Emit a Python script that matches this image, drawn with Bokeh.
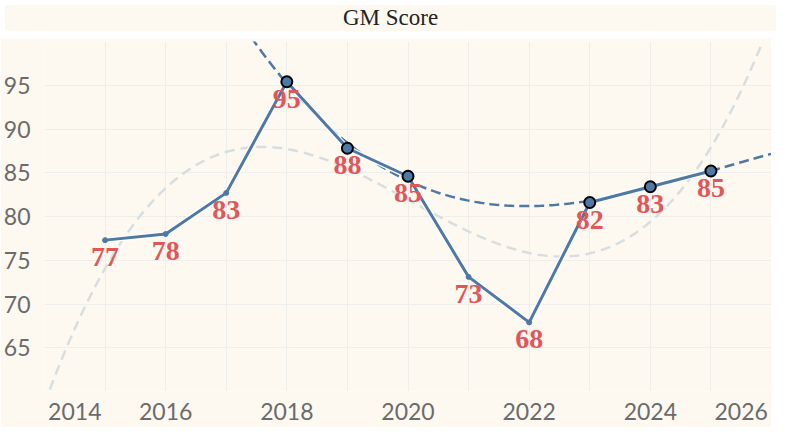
import numpy as np
from bokeh.plotting import figure
from bokeh.models import FixedTicker, ColumnDataSource, Div, Column
from bokeh.core.properties import value
from bokeh.embed import file_html
from bokeh.resources import INLINE

# ---- data ----
title_text = "GM Score"
years = [2015, 2016, 2017, 2018, 2019, 2020, 2021, 2022, 2023, 2024, 2025]
scores = [77.3, 78.0, 82.7, 95.4, 87.8, 84.6, 73.1, 67.9, 81.6, 83.4, 85.2]
highlight_years = [2018, 2019, 2020, 2023, 2024, 2025]
x_tick_labels = ["2014", "2016", "2018", "2020", "2022", "2024", "2026"]
y_ticks = [65, 70, 75, 80, 85, 90, 95]

# ---- styles ----
BG = "#fdf9f1"
BLUE = "#4e79a7"
RED = "#e15759"
GRAY_TREND = "#d8dee0"
GRID = "#eeeeea"
TICK = "#6b6b6b"

labels = [str(int(round(v))) for v in scores]
src = ColumnDataSource(dict(x=years, y=scores, label=labels))
hl_idx = [years.index(y) for y in highlight_years]
hl_src = ColumnDataSource(dict(x=[years[i] for i in hl_idx], y=[scores[i] for i in hl_idx]))
other_idx = [i for i in range(len(years)) if i not in hl_idx]
oth_src = ColumnDataSource(dict(x=[years[i] for i in other_idx], y=[scores[i] for i in other_idx]))

# trend lines (cubic fits)
xa = np.array(years, dtype=float) - 2020
ya = np.array(scores)
c_all = np.polyfit(xa, ya, 3)
xh = np.array(hl_src.data["x"], dtype=float) - 2020
yh = np.array(hl_src.data["y"])
c_hl = np.polyfit(xh, yh, 3)
xf = np.linspace(2013.5, 2026.5, 300)
trend_all = np.polyval(c_all, xf - 2020)
trend_hl = np.polyval(c_hl, xf - 2020)

p = figure(width=771, height=389, output_backend="svg", toolbar_location=None,
           x_range=(2014, 2026), y_range=(60, 100),
           min_border_left=42, min_border_right=0, min_border_top=3, min_border_bottom=36)
p.background_fill_color = BG
p.border_fill_color = BG
p.outline_line_color = None

# grid
p.xgrid.ticker = FixedTicker(ticks=list(range(2014, 2027)))
p.ygrid.ticker = FixedTicker(ticks=[60] + y_ticks)
p.xgrid.grid_line_color = GRID
p.ygrid.grid_line_color = GRID
p.xgrid.grid_line_width = 1
p.ygrid.grid_line_width = 1

# axes
tick_pos = [2014.5, 2016, 2018, 2020, 2022, 2024, 2025.5]
p.xaxis.ticker = FixedTicker(ticks=tick_pos)
p.xaxis.major_label_overrides = {t: l for t, l in zip(tick_pos, x_tick_labels)}
p.yaxis.ticker = FixedTicker(ticks=y_ticks)
for ax in (p.xaxis, p.yaxis):
    ax.axis_line_color = None
    ax.major_tick_line_color = None
    ax.minor_tick_line_color = None
    ax.major_label_text_color = TICK
    ax.major_label_text_font = "Lato"
    ax.major_label_text_font_size = "23px"
p.xaxis.major_label_standoff = 5
p.yaxis.major_label_standoff = 8

# trend curves
p.line(xf, trend_all, line_color=GRAY_TREND, line_width=2.5, line_dash="10 6")
p.line(xf, trend_hl, line_color=BLUE, line_width=2.5, line_dash="10 5")

# main line with halo
p.line("x", "y", source=src, line_color="white", line_width=5.5, line_alpha=0.9)
p.line("x", "y", source=src, line_color=BLUE, line_width=3)
p.scatter("x", "y", source=oth_src, size=5, fill_color=BLUE, line_color=BLUE)
p.scatter("x", "y", source=hl_src, size=11, fill_color=BLUE, line_color="black", line_width=2)

# value labels
p.text("x", "y", text="label", source=src, text_color=RED,
       text_font=value("Liberation Serif"), text_font_style="bold", text_font_size="28px",
       text_align="center", text_baseline="top", y_offset=8)

div = Div(text=title_text, width=771, height=26,
          styles={"background-color": BG, "text-align": "center", "font-family": "Liberation Serif",
                  "font-size": "23px", "line-height": "26px", "color": "#222222"})
layout = Column(children=[div, p], spacing=2)

open("out.html", "w").write(file_html(layout, INLINE))
